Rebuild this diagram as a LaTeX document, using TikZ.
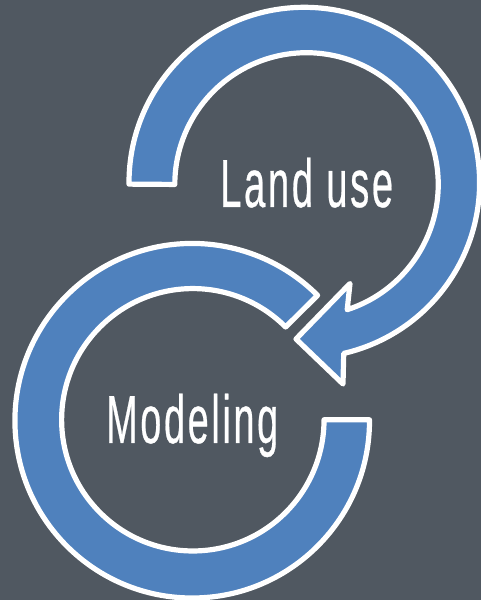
\documentclass[tikz,border=0pt]{standalone}
\usepackage{fontspec}
\setmainfont[LetterSpace=7,FakeBold=0.6]{Liberation Sans}
\definecolor{bgslate}{HTML}{505861}
\definecolor{ringblue}{HTML}{4F81BD}
\tikzset{
  ringshape/.style={fill=ringblue,draw=white,line width=5.2pt,line join=round},
  bigtext/.style={text=white,inner sep=0pt,anchor=base west}
}
\newcommand{\wtext}[2]{\resizebox{#1pt}{\height}{\fontsize{68}{68}\selectfont #2}}
\begin{document}
\begin{tikzpicture}[x=1pt,y=1pt]
\fill[bgslate] (0,0) rectangle (481,600);
\useasboundingbox (0,0) rectangle (481,600);
% Land use arrow (y = 600 - pixel y)
\draw[ringshape] (129.01,415.87) arc[start angle=180.5,end angle=-77,radius=175.3pt]
  -- (343,216) -- (296,261) -- (350,316.5) -- (347.2,290.3)
  arc[start angle=-72,end angle=180,radius=131.7pt] -- cycle;
% Modeling arrow
\draw[ringshape] (369.5,180.2) arc[start angle=0.3,end angle=-315,radius=177.3pt]
  -- (285.6,273) arc[start angle=45,end angle=360,radius=131.2pt] -- cycle;
\node[bigtext] (landuse) at (220,393) {\wtext{173}{Land use}};
\node[bigtext] (modeling) at (106,157) {\wtext{172}{Modeling}};
\end{tikzpicture}
\end{document}
